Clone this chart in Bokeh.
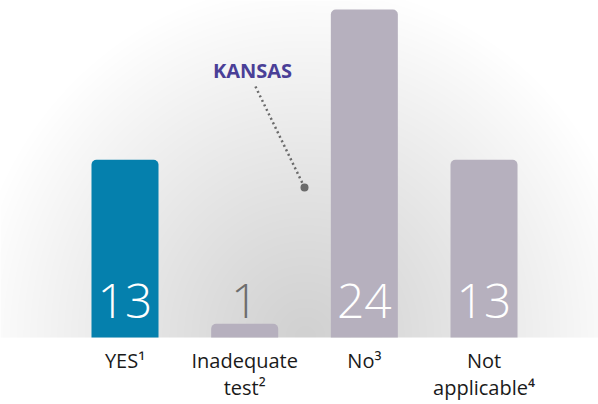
import numpy as np
from bokeh.plotting import figure
from bokeh.models import Range1d, Label
from bokeh.core.properties import value
from bokeh.embed import file_html
from bokeh.resources import INLINE

# ---- data ----
categories = ["YES¹", "Inadequate\ntest²", "No³", "Not\napplicable⁴"]
counts = [13, 1, 24, 13]
bar_colors = ["#0580ad", "#b6b0be", "#b6b0be", "#b6b0be"]
annotation_text = "KANSAS"

# ---- layout ----
W, H = 598, 404
PX_PER_CAT = 119.67
PX_PER_UNIT = 13.667
BASE_PX = 337          # baseline distance from top of plot (px)
FIRST_CENTER_PX = 124.5

xs = -FIRST_CENTER_PX / PX_PER_CAT
xe = xs + W / PX_PER_CAT
ys = -(H - BASE_PX) / PX_PER_UNIT
ye = BASE_PX / PX_PER_UNIT

p = figure(width=W, height=H, x_range=Range1d(xs, xe), y_range=Range1d(ys, ye),
           output_backend="svg", toolbar_location=None, min_border=0,
           x_axis_type=None, y_axis_type=None,
           background_fill_color="white", border_fill_color="white",
           outline_line_color=None)
p.grid.visible = False

# ---- radial gradient background above the baseline ----
nx, ny = W, BASE_PX
cx = 305.0
px = np.arange(nx) + 0.5
rows = np.arange(ny) + 0.5   # distance above baseline (row 0 = bottom)
X, Y = np.meshgrid(px, rows)
d = np.sqrt((X - cx) ** 2 + (Y * 0.95) ** 2)
t = np.clip(d / 335.0, 0, 1)
shade = (209 + (255 - 209) * t ** 1.1).astype(np.uint8)
img = np.empty((ny, nx), dtype=np.uint32)
view = img.view(dtype=np.uint8).reshape((ny, nx, 4))
view[:, :, 0] = shade
view[:, :, 1] = shade
view[:, :, 2] = shade
view[:, :, 3] = 255
p.image_rgba(image=[img], x=xs, y=0, dw=xe - xs, dh=ye)

idx = list(range(len(categories)))

# ---- bars ----
p.vbar(x=idx, top=counts, bottom=0, width=0.56, fill_color=bar_colors,
       line_color=None, border_radius=(5, 5, 0, 0))

# ---- value labels ----
max_c = max(counts)
label_colors = ["white" if c > max_c * 0.1 else "#6d6d6d" for c in counts]
p.text(x=idx, y=[0] * len(counts), text=[str(c) for c in counts],
       text_align="center", text_baseline="alphabetic", y_offset=-37,
       text_font=value("Open Sans Light, Open Sans"), text_font_size="48px",
       text_color=label_colors)

# ---- category labels ----
p.text(x=idx, y=[0] * len(categories), text=categories,
       text_align="center", text_baseline="top", y_offset=9,
       text_font=value("Open Sans"), text_font_size="20px",
       text_color="#1a1a1a", text_line_height=1.0)

# ---- KANSAS annotation ----
p.add_layout(Label(x=252, y=334, x_units="screen", y_units="screen",
                   text=annotation_text, text_align="center",
                   text_baseline="alphabetic", text_font="Open Sans",
                   text_font_style="bold", text_font_size="20px",
                   text_color="#4a3f97"))
lead_x = [1.09, 1.5]
lead_y = [18.37, 10.98]
p.segment(x0=[lead_x[0]], y0=[lead_y[0]], x1=[lead_x[1]], y1=[lead_y[1]],
          line_color="#6b6b6b", line_width=2.5, line_dash="2 3")
p.scatter(x=[lead_x[1]], y=[lead_y[1]], size=8, fill_color="#6b6b6b",
          line_color=None)

open("out.html", "w").write(file_html(p, INLINE))
